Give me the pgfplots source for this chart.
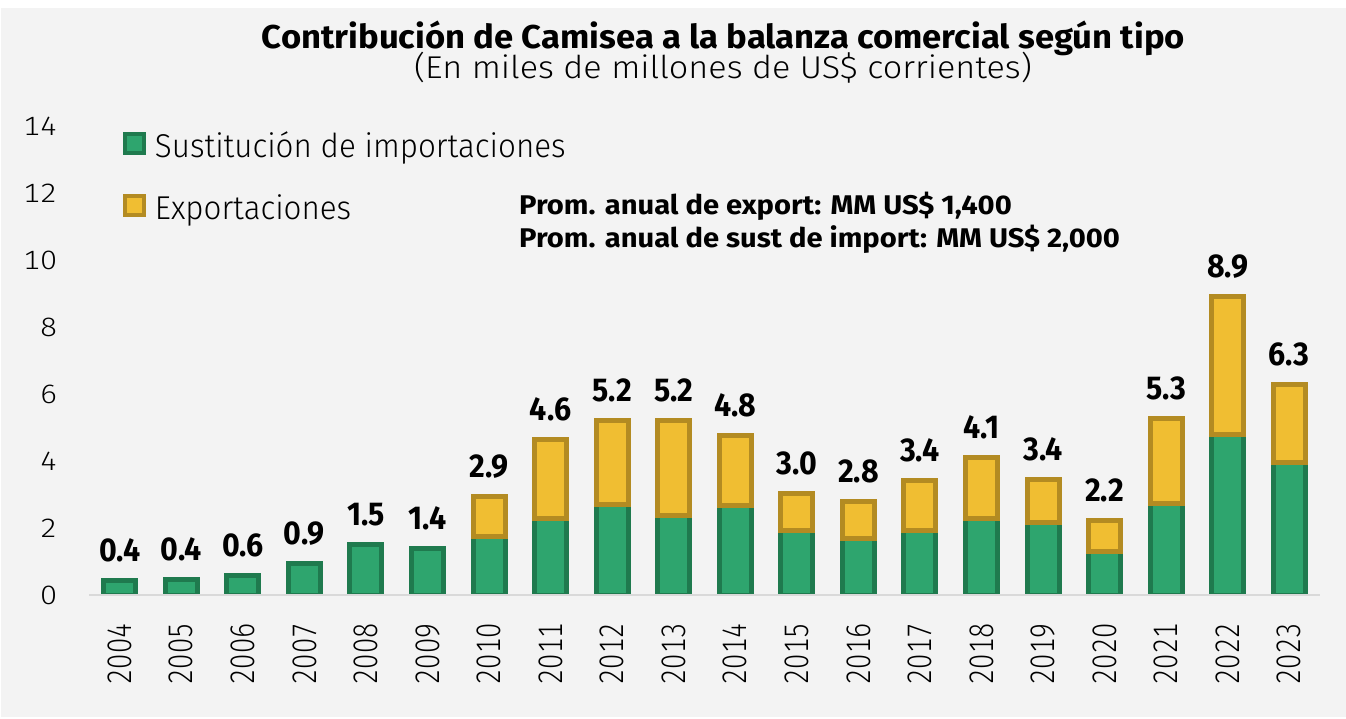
\documentclass[border=0pt]{standalone}
\usepackage{pgfplots}
\pgfplotsset{compat=1.18}
\usepackage{pgfplotstable}
\usepackage{fontspec}
\setmainfont{Fira Sans}
\newfontfamily\ltsub{Fira Sans}[UprightFont={* Light}, FakeStretch=1.085]
\newfontfamily\ltleg{Fira Sans}[UprightFont={* Light}, FakeStretch=0.95]
\newfontfamily\ltx{Fira Sans}[UprightFont={* Light}, FakeStretch=0.8, Numbers=Monospaced]
\newfontfamily\lty{Fira Sans}[UprightFont={* Light}, FakeStretch=1.15, Numbers=Monospaced]
\newfontfamily\bdtitle{Fira Sans}[UprightFont={* Bold}, FakeStretch=1.05]
\newfontfamily\bdnote{Fira Sans}[UprightFont={* Bold}, FakeStretch=1.08]
\newfontfamily\bdlab{Fira Sans}[UprightFont={* Bold}, FakeStretch=0.92]
\definecolor{bg}{HTML}{F3F3F3}
\definecolor{gfill}{HTML}{2EA56E}
\definecolor{gborder}{HTML}{1F7A4E}
\definecolor{yfill}{HTML}{F0BE32}
\definecolor{yborder}{HTML}{B38B22}
\definecolor{axgray}{HTML}{D9D9D9}

\pgfplotstableread{
x g tot lab
0 0.42 0.42 0.4
1 0.46 0.46 0.4
2 0.58 0.58 0.6
3 0.95 0.95 0.9
4 1.52 1.52 1.5
5 1.38 1.38 1.4
6 1.76 2.94 2.9
7 2.27 4.64 4.6
8 2.69 5.22 5.2
9 2.36 5.20 5.2
10 2.67 4.76 4.8
11 1.94 3.03 3.0
12 1.70 2.80 2.8
13 1.94 3.41 3.4
14 2.27 4.10 4.1
15 2.16 3.45 3.4
16 1.31 2.21 2.2
17 2.72 5.28 5.3
18 4.78 8.91 8.9
19 3.97 6.28 6.3
}\sustdata

\pgfplotstableread{
x g e
6 1.76 1.18
7 2.27 2.37
8 2.69 2.53
9 2.36 2.84
10 2.67 2.09
11 1.94 1.09
12 1.70 1.10
13 1.94 1.47
14 2.27 1.83
15 2.16 1.29
16 1.31 0.90
17 2.72 2.56
18 4.78 4.13
19 3.97 2.31
}\expdata

\pgfplotsset{
  camisea/.style={
    at={(89pt,123pt)}, anchor=south west,
    scale only axis, width=1231pt, height=469pt,
    xmin=-0.5, xmax=19.5, ymin=0, ymax=14,
    bar width=32pt,
  }
}

\begin{document}
\begin{tikzpicture}[x=1pt,y=1pt]
\fill[white] (0,0) rectangle (1346,718);
\fill[bg] (1,1) rectangle (1346,710);

\node[anchor=base, inner sep=0pt, font=\bdtitle\fontsize{33}{33}\selectfont] at (723.5,669) {Contribución de Camisea a la balanza comercial según tipo};
\node[anchor=base, inner sep=0pt, font=\ltsub\fontsize{31.5}{31.5}\selectfont] at (723,639) {(En miles de millones de US\$ corrientes)};
\node[anchor=base west, font=\bdnote\fontsize{27}{27}\selectfont, inner sep=0pt] at (519,503) {Prom. anual de export: MM US\$ 1,400};
\node[anchor=base west, font=\bdnote\fontsize{27}{27}\selectfont, inner sep=0pt] at (519,470) {Prom. anual de sust de import: MM US\$ 2,000};

\begin{axis}[camisea,
  ybar,
  axis line style={draw=none},
  tick style={draw=none},
  /pgf/number format/assume math mode=true,
  ytick={0,2,...,14},
  xtick={0,...,19},
  xticklabels={2004,2005,2006,2007,2008,2009,2010,2011,2012,2013,2014,2015,2016,2017,2018,2019,2020,2021,2022,2023},
  yticklabel style={anchor=east, inner sep=0pt, font=\lty\fontsize{26.5}{26.5}\selectfont},
  yticklabel shift=31.5pt,
  xticklabel style={rotate=90, anchor=east, inner sep=0pt, font=\ltx\fontsize{34}{34}\selectfont},
  xticklabel shift=24pt,
  legend style={at={(0.0276,0.9872)}, anchor=north west, draw=none, fill=none,
    inner sep=0pt, outer sep=0pt, row sep=30pt, column sep=9pt,
    font=\ltleg\fontsize{33}{33}\selectfont,
    nodes={inner sep=0pt, text height=24pt, text depth=7pt}},
  legend cell align=left,
]
\addplot[fill=gfill, draw=gborder, line width=5pt, bar shift=0pt, forget plot] table[x=x, y=g] {\sustdata};
\addplot[draw=none, fill=none, bar shift=0pt, forget plot,
  nodes near coords, point meta=explicit symbolic,
  nodes near coords style={anchor=base, yshift=19pt, inner sep=0pt, text=black, font=\bdlab\fontsize{33}{33}\selectfont}]
  table[x=x, y=tot, meta=lab] {\sustdata};
\addlegendimage{legend image code/.code={\draw[draw=gborder, fill=gfill, line width=4pt] (2pt,-4.1pt) rectangle (21pt,14.9pt);}}
\addlegendentry{Sustitución de importaciones}
\addlegendimage{legend image code/.code={\draw[draw=yborder, fill=yfill, line width=4pt] (2pt,-4.1pt) rectangle (21pt,14.9pt);}}
\addlegendentry{Exportaciones}
\end{axis}

\begin{axis}[camisea, ybar stacked, hide axis]
\addplot[draw=none, fill=none] table[x=x, y=g] {\expdata};
\addplot[fill=yfill, draw=yborder, line width=5pt] table[x=x, y=e] {\expdata};
\draw[axgray, line width=2pt] (axis cs:-0.5,0) -- (axis cs:19.5,0);
\end{axis}
\end{tikzpicture}
\end{document}
